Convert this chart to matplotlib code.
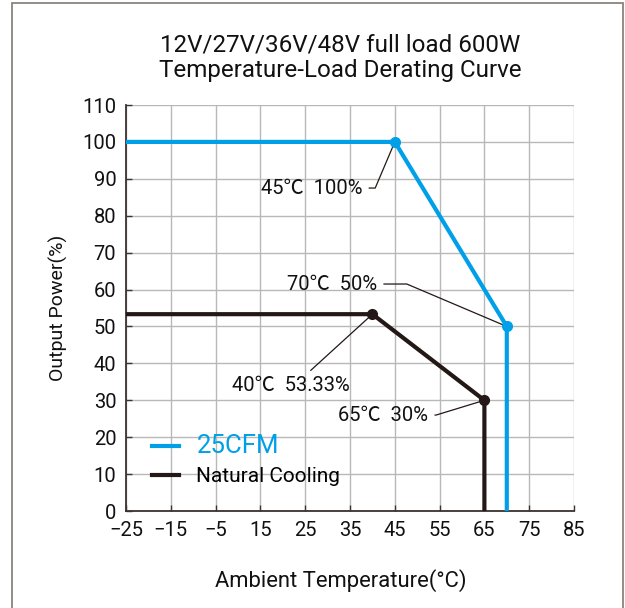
import numpy as np
import matplotlib
matplotlib.use("Agg")
import matplotlib.pyplot as plt
from matplotlib.patches import Rectangle

plt.rcParams['font.family'] = ['Roboto', 'Noto Sans CJK JP', 'DejaVu Sans']

# ---- data ----
x_tick_labels = [-25, -15, -5, 15, 25, 35, 45, 55, 65, 75, 85]
y_ticks = [0, 10, 20, 30, 40, 50, 60, 70, 80, 90, 100, 110]

cfm_temp = [-25, 45, 70, 70]
cfm_power = [100, 100, 50, 0]
nat_temp = [-25, 40, 65, 65]
nat_power = [53.33, 53.33, 30, 0]

cfm_pts_temp = [45, 70]
cfm_pts_power = [100, 50]
nat_pts_temp = [40, 65]
nat_pts_power = [53.33, 30]

labels = ["25CFM", "Natural Cooling"]
title = "12V/27V/36V/48V full load 600W\nTemperature-Load Derating Curve"

BLUE = '#00a0e9'
BLACK = '#231815'

tick_pos = np.arange(len(x_tick_labels))


def to_pos(t):
    return np.interp(t, x_tick_labels, tick_pos)


fig = plt.figure(figsize=(6.25, 6.08), dpi=100)
ax = fig.add_axes([0.2016, 0.1595, 0.7168, 0.6678])

# figure border
fig.patches.append(Rectangle((11.5 / 625, -0.01), (622.5 - 11.5) / 625, 1 - 2.5 / 608 + 0.01,
                             transform=fig.transFigure, fill=False,
                             edgecolor='#8a8480', linewidth=1.3))

ax.set_xlim(tick_pos[0], tick_pos[-1])
ax.set_ylim(0, 110)
ax.set_xticks(tick_pos)
ax.set_xticklabels([f"{v}".replace('-', '\u2212') for v in x_tick_labels])
ax.set_yticks(y_ticks)
ax.grid(True, color='#b8b8b8', linewidth=1.0)
ax.set_axisbelow(True)
for s in ['top', 'right']:
    ax.spines[s].set_visible(False)
for s in ['left', 'bottom']:
    ax.spines[s].set_color('#3a3330')
    ax.spines[s].set_linewidth(1.3)
ax.tick_params(direction='in', length=4, width=1.0, color='#3a3330',
               labelsize=14.5, labelcolor='#111111')
ax.tick_params(axis='x', pad=7)
ax.tick_params(axis='y', pad=7)

l1, = ax.plot(to_pos(cfm_temp), cfm_power, color=BLUE, lw=3.0,
              solid_joinstyle='miter', label=labels[0], zorder=4)
l2, = ax.plot(to_pos(nat_temp), nat_power, color=BLACK, lw=3.0,
              solid_joinstyle='miter', label=labels[1], zorder=3)
ax.plot(to_pos(cfm_pts_temp), cfm_pts_power, 'o', color=BLUE, ms=7, zorder=5, clip_on=False)
ax.plot(to_pos(nat_pts_temp), nat_pts_power, 'o', color=BLACK, ms=7, zorder=5, clip_on=False)

ann_kw = dict(fontsize=14.5, color='#111111')
lp = dict(arrowstyle='-', color=BLACK, lw=0.9, shrinkA=3, shrinkB=0)

ax.annotate("45\u2103  100%", xy=(to_pos(45), 100), xytext=(5.27, 87.5),
            ha='right', va='center',
            arrowprops=dict(lp, connectionstyle='angle,angleA=0,angleB=67,rad=0'),
            **ann_kw)
ax.annotate("70\u2103  50%", xy=(to_pos(70), 50), xytext=(5.60, 61.5),
            ha='right', va='center',
            arrowprops=dict(lp, connectionstyle='angle,angleA=0,angleB=-23,rad=0'),
            **ann_kw)
ax.annotate("40\u2103  53.33%", xy=(to_pos(40), 53.33), xytext=(3.67, 34.0),
            ha='center', va='center',
            arrowprops=dict(lp, relpos=(0.62, 1.0), connectionstyle='arc3'),
            **ann_kw)
ax.annotate("65\u2103  30%", xy=(to_pos(65), 30), xytext=(6.74, 26.0),
            ha='right', va='center',
            arrowprops=dict(lp, connectionstyle='angle,angleA=0,angleB=17,rad=0'),
            **ann_kw)

leg = ax.legend(handles=[l1, l2], loc='lower left', bbox_to_anchor=(0.02, 0.02),
                frameon=False, handlelength=1.3, handletextpad=0.85,
                labelspacing=0.42, fontsize=15, borderpad=0.3)
leg.get_texts()[0].set_color(BLUE)
leg.get_texts()[0].set_fontsize(18.5)

ax.set_xlabel("Ambient Temperature(\u00b0C)", fontsize=15.8, labelpad=20,
              color='#111111')
ax.xaxis.set_label_coords(0.48, -0.143)
ax.set_ylabel("Output Power(%)", fontsize=14, labelpad=10, color='#111111')

fig.text(0.544, 0.905, title, ha='center', va='center', fontsize=17.4,
         linespacing=1.1, color='#111111')

fig.savefig("out.png", dpi=100)
